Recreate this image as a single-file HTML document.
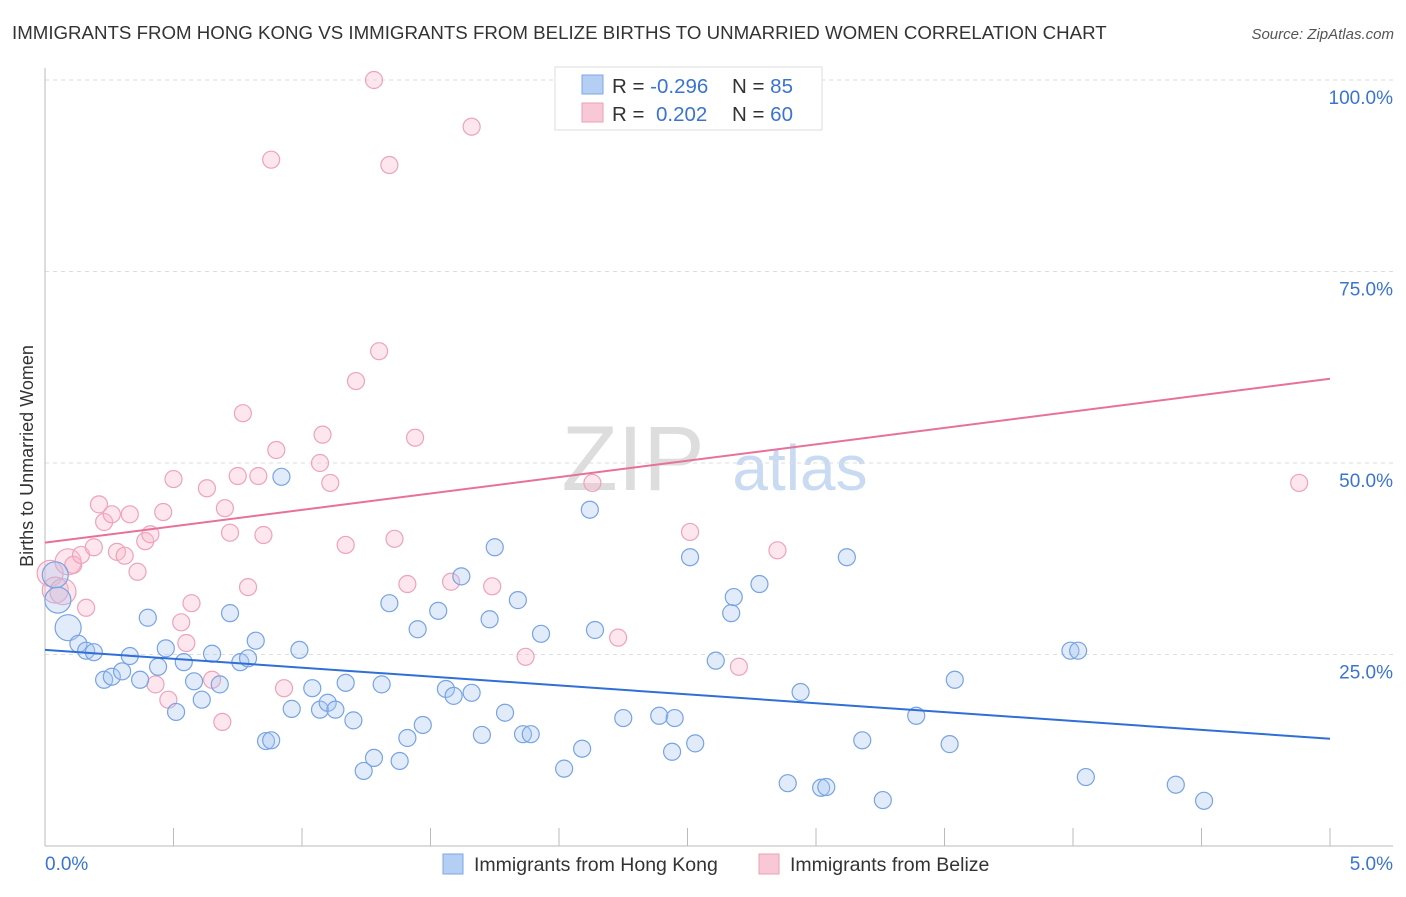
<!DOCTYPE html>
<html><head><meta charset="utf-8"><style>
body{margin:0;background:#fff;font-family:"Liberation Sans",sans-serif;}
svg text{font-family:"Liberation Sans",sans-serif;}
</style></head><body>
<svg id="chart" width="1406" height="892">
<text x="12" y="39" font-size="18.7" fill="#333">IMMIGRANTS FROM HONG KONG VS IMMIGRANTS FROM BELIZE BIRTHS TO UNMARRIED WOMEN CORRELATION CHART</text>
<text x="1394" y="39" font-size="15" fill="#555" font-style="italic" text-anchor="end">Source: ZipAtlas.com</text>
<text x="33" y="456" font-size="18" fill="#333" text-anchor="middle" transform="rotate(-90 33 456)">Births to Unmarried Women</text>
<text x="633" y="490" font-size="92" fill="#ddd" font-family="Liberation Serif" text-anchor="middle">ZIP</text>
<text x="800" y="490" font-size="64" fill="#c9dbf2" text-anchor="middle">atlas</text>
<g id="grid"></g><g id="pts"></g><g id="lines"></g>
<g>
<rect x="555" y="67" width="267" height="63" fill="#fff" stroke="#ddd"/>
<rect x="582" y="75" width="21" height="19" fill="#b4cff3" stroke="#7ea7e4"/>
<rect x="582" y="103" width="21" height="19" fill="#f9c8d6" stroke="#ec9fb8"/>
<text x="612" y="93" font-size="20.5" fill="#333">R = <tspan fill="#3a74d0">-0.296</tspan><tspan x="732">N = </tspan><tspan fill="#3a74d0">85</tspan></text>
<text x="612" y="121" font-size="20.5" fill="#333">R = <tspan fill="#3a74d0" x="656">0.202</tspan><tspan x="732">N = </tspan><tspan fill="#3a74d0">60</tspan></text>
</g>
<g>
<rect x="443" y="854" width="20" height="20" fill="#b4cff3" stroke="#7ea7e4"/>
<text x="474" y="871" font-size="19.5" fill="#333">Immigrants from Hong Kong</text>
<rect x="759" y="854" width="20" height="20" fill="#f9c8d6" stroke="#ec9fb8"/>
<text x="790" y="871" font-size="19.5" fill="#333">Immigrants from Belize</text>
</g>
</svg>
<script>
const yTicks=[25,50,75,100];
const yTickLabels=["25.0%","50.0%","75.0%","100.0%"];
const xTickLabels=["0.0%","5.0%"];
const hkX=[0.04,0.05,0.09,0.13,0.16,0.19,0.23,0.26,0.30,0.33,0.37,0.40,0.44,0.47,0.51,0.54,0.58,0.61,0.65,0.68,0.72,0.76,0.79,0.82,0.86,0.88,0.92,0.96,0.99,1.04,1.07,1.10,1.13,1.17,1.20,1.24,1.28,1.31,1.34,1.38,1.41,1.45,1.47,1.53,1.56,1.59,1.62,1.66,1.70,1.73,1.75,1.79,1.84,1.86,1.89,1.93,2.02,2.09,2.12,2.14,2.25,2.39,2.44,2.45,2.53,2.51,2.61,2.67,2.68,2.78,2.89,2.94,3.02,3.04,3.12,3.18,3.26,3.39,3.52,3.54,3.99,4.02,4.05,4.40,4.51];
const hkY=[35.4,32.1,28.5,26.4,25.5,25.3,21.7,22.1,22.8,24.8,21.7,29.8,23.4,25.8,17.5,24.0,21.5,19.1,25.1,21.1,30.4,24.0,24.5,26.8,13.7,13.8,48.2,17.9,25.6,20.6,17.8,18.7,17.8,21.3,16.4,9.8,11.5,21.1,31.7,11.1,14.1,28.3,15.8,30.7,20.5,19.6,35.2,20.0,14.5,29.6,39.0,17.4,32.1,14.6,14.6,27.7,10.1,12.7,43.9,28.2,16.7,17.0,12.3,16.7,13.4,37.7,24.2,30.4,32.5,34.2,8.2,20.1,7.6,7.7,37.7,13.8,6.0,17.0,13.3,21.7,25.5,25.5,9.0,8.0,5.9];
const bzX=[0.02,0.04,0.07,0.09,0.11,0.14,0.16,0.19,0.21,0.23,0.26,0.28,0.31,0.33,0.36,0.39,0.41,0.43,0.46,0.48,0.50,0.53,0.55,0.57,0.63,0.65,0.69,0.70,0.72,0.75,0.77,0.79,0.83,0.85,0.88,0.90,0.93,1.07,1.08,1.11,1.17,1.21,1.28,1.30,1.34,1.36,1.41,1.44,1.58,1.66,1.74,1.87,2.13,2.23,2.51,2.70,2.85,4.88];
const bzY=[35.6,33.4,33.2,37.1,36.7,38.0,31.1,39.0,44.6,42.3,43.3,38.4,37.9,43.3,35.8,39.8,40.7,21.1,43.6,19.1,47.9,29.2,26.5,31.7,46.7,21.7,16.2,44.1,40.9,48.3,56.5,33.8,48.3,40.6,89.6,51.7,20.6,50.0,53.7,47.4,39.3,60.7,100,64.6,88.9,40.1,34.2,53.3,34.5,93.9,33.9,24.7,47.4,27.2,41.0,23.4,38.6,47.4];
const hkTrend=[25.6,14.0];
const bzTrend=[39.6,61.0];
const X=v=>45+v/5*1285, Y=v=>846-v*7.66;
const NS="http://www.w3.org/2000/svg";
function mk(t,a,p){const e=document.createElementNS(NS,t);for(const k in a)e.setAttribute(k,a[k]);p.appendChild(e);return e;}
const g=document.getElementById('grid');
yTicks.forEach((v,i)=>{
 const l=mk('line',{x1:45,x2:1393,y1:Y(v),y2:Y(v),stroke:'#ddd','stroke-dasharray':'4 4'},g);
 
 
 const t=mk('text',{x:1393,y:Y(v)+24,'font-size':19,fill:'#3a74d0','text-anchor':'end'},g);t.textContent=yTickLabels[i];
 
 
});
const ax=mk('line',{x1:45,x2:45,y1:68,y2:846,stroke:'#bbb'},g);


const bx=mk('line',{x1:45,x2:1393,y1:846,y2:846,stroke:'#bbb'},g);


for(let i=0;i<=10;i++){const t=mk('line',{x1:X(i*0.5),x2:X(i*0.5),y1:828,y2:846,stroke:'#bbb'},g);
 
 }
[[0,'start',45],[5,'end',1393]].forEach((d,i)=>{const t=mk('text',{x:d[2],y:870,'font-size':19,fill:'#3a74d0','text-anchor':d[1]},g);t.textContent=xTickLabels[i];
 
 });
const p=document.getElementById('pts');
function pts(xs,ys,fill,stroke,name){xs.forEach((x,i)=>{const r=(x<0.1)?13:8.5;
 const c=mk('circle',{cx:X(x),cy:Y(ys[i]),r:r,fill:fill,stroke:stroke,'stroke-width':1.2},p);
 
 });}
pts(bzX,bzY,'rgba(248,182,202,0.35)','#eda3bb','belize-point');
pts(hkX,hkY,'rgba(168,198,240,0.35)','#77a4e2','hong-kong-point');
const L=document.getElementById('lines');
const l1=mk('line',{x1:X(0),x2:X(5),y1:Y(hkTrend[0]),y2:Y(hkTrend[1]),stroke:'#2f6fd6','stroke-width':2},L);


const l2=mk('line',{x1:X(0),x2:X(5),y1:Y(bzTrend[0]),y2:Y(bzTrend[1]),stroke:'#e8719a','stroke-width':2},L);


</script>
</body></html>
